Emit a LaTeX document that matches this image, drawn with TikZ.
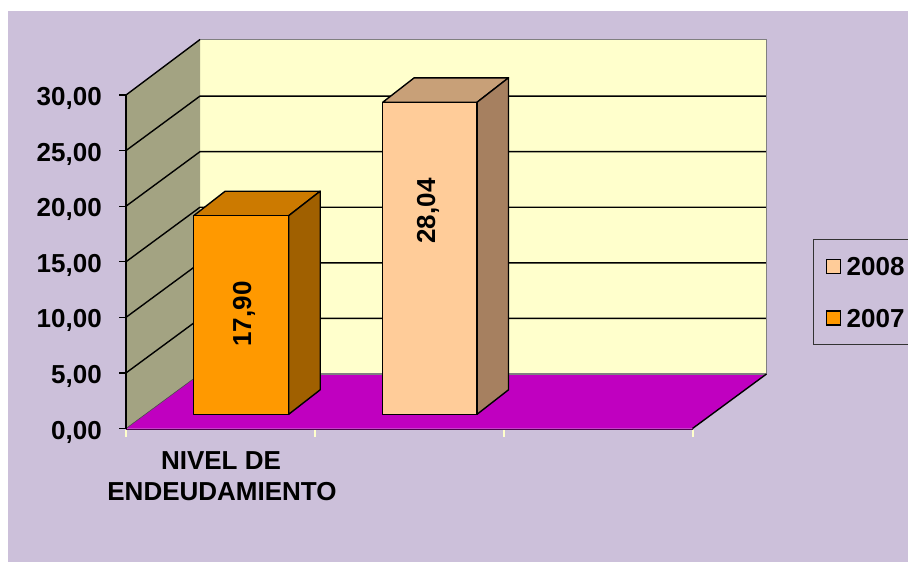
\documentclass[tikz,border=0pt]{standalone}
\usepackage{fontspec}
\setmainfont{Liberation Sans}
\definecolor{lav}{RGB}{204,192,218}
\definecolor{wallback}{RGB}{255,255,204}
\definecolor{wallside}{RGB}{163,163,130}
\definecolor{floorc}{RGB}{192,0,192}
\definecolor{orfront}{RGB}{255,153,0}
\definecolor{ortop}{RGB}{204,122,0}
\definecolor{orside}{RGB}{160,96,0}
\definecolor{pefront}{RGB}{255,204,153}
\definecolor{petop}{RGB}{200,160,120}
\definecolor{peside}{RGB}{166,128,96}
\definecolor{tickc}{RGB}{255,255,204}
\begin{document}
\begin{tikzpicture}[x=1pt,y=-1pt,
  lbl/.style={font=\fontsize{26}{31}\selectfont\bfseries, inner sep=0pt},
  barline/.style={draw=black, line width=1.4pt, line join=round},
  grid/.style={draw=black, line width=1.4pt},
  walledge/.style={draw=gray, line width=1.2pt}]
\useasboundingbox (0,0) rectangle (908,562);
\fill[white] (0,0) rectangle (908,562);
\fill[lav] (8,11) rectangle (908,562);
% walls and floor
\fill[wallback] (200,39.5) rectangle (766.5,374);
\fill[wallside] (126,428.5) -- (126,95) -- (200,39.5) -- (200,374) -- cycle;
\fill[floorc] (126,428.5) -- (200,374) -- (766.5,374) -- (692.5,428.5) -- cycle;
% gridlines
\foreach \k in {1,...,5}{
  \pgfmathsetmacro{\yf}{428.5-\k*55.583}
  \pgfmathsetmacro{\yb}{\yf-54.5}
  \draw[grid] (126,\yf) -- (200,\yb) -- (766.5,\yb);
}
\draw[walledge] (200,39.5) -- (766.5,39.5) -- (766.5,374) -- (200,374);
\draw[draw=black, line width=1.4pt] (126,95) -- (200,39.5);
\draw[draw=black!70, line width=0.6pt] (126,428.5) -- (200,374);
\draw[draw=black, line width=1.4pt] (692.5,428.5) -- (766.5,374);
\draw[draw=black!60!floorc, line width=0.6pt] (126,429) -- (692.5,429);
\draw[draw=black, line width=1.4pt] (126,95) -- (126,428.5);
% left ticks
\foreach \k in {0,...,6}{
  \pgfmathsetmacro{\yf}{428.5-\k*55.583}
  \draw[black, line width=1.2pt] (119,\yf) -- (126,\yf);
}
% bottom ticks
\foreach \xx in {126,315,504,692.5}{
  \draw[tickc, line width=2pt] (\xx,430) -- (\xx,437);
}
% y labels
\node[lbl, anchor=base east] (y0) at (102,439) {0,00};
\node[lbl, anchor=base east] (y5) at (102,383.4) {5,00};
\node[lbl, anchor=base east] (y10) at (102,327.8) {10,00};
\node[lbl, anchor=base east] (y15) at (102,272.3) {15,00};
\node[lbl, anchor=base east] (y20) at (102,216.7) {20,00};
\node[lbl, anchor=base east] (y25) at (102,161.1) {25,00};
\node[lbl, anchor=base east] (y30) at (102,105.5) {30,00};
% orange bar (2007)
\fill[ortop, barline] (193.7,215.7) -- (288.7,215.7) -- (320.2,191.2) -- (225.2,191.2) -- cycle;
\fill[orside, barline] (288.7,215.7) -- (320.2,191.2) -- (320.2,389.8) -- (288.7,414.3) -- cycle;
\fill[orfront, barline] (193.7,215.7) rectangle (288.7,414.3);
% peach bar (2008)
\fill[petop, barline] (382.7,102.3) -- (477,102.3) -- (508.5,77.8) -- (414.2,77.8) -- cycle;
\fill[peside, barline] (477,102.3) -- (508.5,77.8) -- (508.5,389.8) -- (477,414.3) -- cycle;
\fill[pefront, barline] (382.7,102.3) rectangle (477,414.3);
% bar labels
\node[lbl, rotate=90, anchor=base] (v2007) at (251,314) {17,90};
\node[lbl, rotate=90, anchor=base] (v2008) at (435,211) {28,04};
% category label
\node[lbl, anchor=base] (cat1) at (221,469) {NIVEL DE};
\node[lbl, anchor=base] (cat2) at (222,500) {ENDEUDAMIENTO};
% legend
\draw[black!80, line width=1pt] (908,239) -- (813,239) -- (813,344) -- (908,344);
\fill[pefront, draw=black, line width=1.6pt] (826.5,259.5) rectangle (840.5,273.5);
\fill[orfront, draw=black, line width=1.6pt] (826.5,311) rectangle (840.5,325);
\node[lbl, anchor=base west] (l2008) at (846.5,275) {2008};
\node[lbl, anchor=base west] (l2007) at (846.5,327) {2007};
\end{tikzpicture}
\end{document}
